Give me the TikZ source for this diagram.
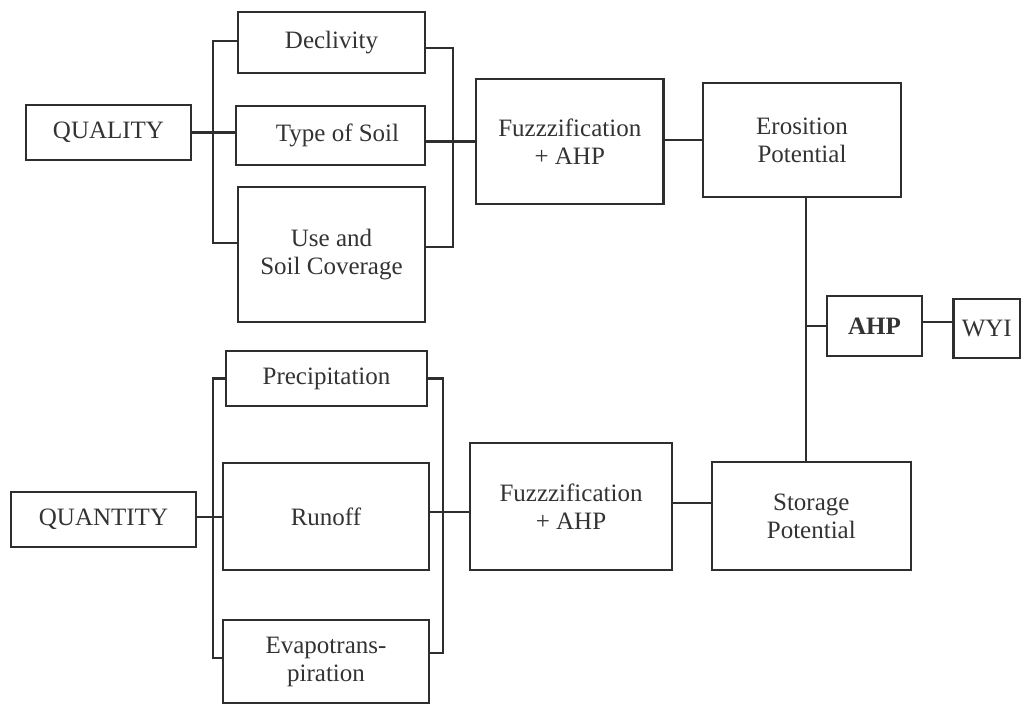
\documentclass[tikz,border=0pt]{standalone}
\usepackage{fontspec}
\setmainfont{Liberation Serif}
\begin{document}
\begin{tikzpicture}[x=1pt,y=-1pt,
  line width=2pt,
  box/.style={draw=black!82, line width=2.2pt, rectangle, inner sep=0pt, align=center,
    text=black!80, font=\fontsize{25}{28}\selectfont},
  conn/.style={draw=black!82, line width=2.2pt}]
\useasboundingbox (0,0) rectangle (1024,704);
\fill[white] (0,0) rectangle (1024,704);
% top group
\node[box, minimum width=165pt, minimum height=55pt] (qual) at (108.5,132.5) {QUALITY};
\node[box, minimum width=187pt, minimum height=61pt] (decl) at (331.5,42.5) {Declivity};
\node[box, minimum width=189pt, minimum height=59pt] (soil) at (330.5,135.5) {\hspace{14pt}Type of Soil};
\node[box, minimum width=187pt, minimum height=135pt] (use) at (331.5,254.5) {Use and\\Soil Coverage};
\node[box, minimum width=187.5pt, minimum height=125pt] (fuzz1) at (569.75,141.5) {Fuzzzification\\+ AHP};
\node[box, minimum width=198.5pt, minimum height=114pt] (ero) at (802,140) {Erosition\\Potential};
% right
\node[box, minimum width=95pt, minimum height=60pt, font=\fontsize{25}{28}\selectfont\bfseries] (ahp) at (874.5,326) {AHP};
\node[box, minimum width=66.5pt, minimum height=59pt] (wyi) at (986.75,328.5) {WYI};
% bottom group
\node[box, minimum width=185pt, minimum height=55pt] (quan) at (103.5,519.5) {QUANTITY};
\node[box, minimum width=201pt, minimum height=55pt] (prec) at (326.5,378.5) {Precipitation};
\node[box, minimum width=206pt, minimum height=107pt] (runoff) at (326,516.5) {Runoff};
\node[box, minimum width=206pt, minimum height=83pt] (evap) at (326,661.5) {Evapotrans-\\piration};
\node[box, minimum width=202pt, minimum height=127pt] (fuzz2) at (571,506.5) {Fuzzzification\\+ AHP};
\node[box, minimum width=199.4pt, minimum height=108pt] (stor) at (811.3,516) {Storage\\Potential};
% coordinates for bracket spines
\coordinate (tlb) at (213,132.5);
\coordinate (trb) at (453,141.5);
\coordinate (blb) at (213,517);
\coordinate (brb) at (443,512);
\coordinate (vl) at (806,326);
% top brackets
\draw[conn] ([yshift=1.5pt]decl.west) -| (tlb) |- ([yshift=11.5pt]use.west);
\draw[conn] (qual.east) -- (qual.east -| soil.west);
\draw[conn] ([yshift=-5.5pt]decl.east) -| (trb) |- ([yshift=7.5pt]use.east);
\draw[conn] (soil.east |- fuzz1.west) -- (fuzz1.west);
\draw[conn] (fuzz1.east |- ero.west) -- (ero.west);
% bottom brackets
\draw[conn] (prec.west) -| (blb) |- ([yshift=3.5pt]evap.west);
\draw[conn] ([yshift=2.5pt]quan.east) -- ([yshift=2.5pt]quan.east -| runoff.west);
\draw[conn] (prec.east) -| (brb) |- ([yshift=8.5pt]evap.east);
\draw[conn] (runoff.east |- brb) -- (brb -| fuzz2.west);
\draw[conn] ([yshift=3.5pt]fuzz2.east) -- ([yshift=3.5pt]fuzz2.east -| stor.west);
% right spine
\draw[conn] (ero.south -| vl) -- (stor.north -| vl);
\draw[conn] (vl) -- (ahp.west);
\draw[conn] ([yshift=4pt]ahp.east) -- ([yshift=4pt]ahp.east -| wyi.west);
\end{tikzpicture}
\end{document}
